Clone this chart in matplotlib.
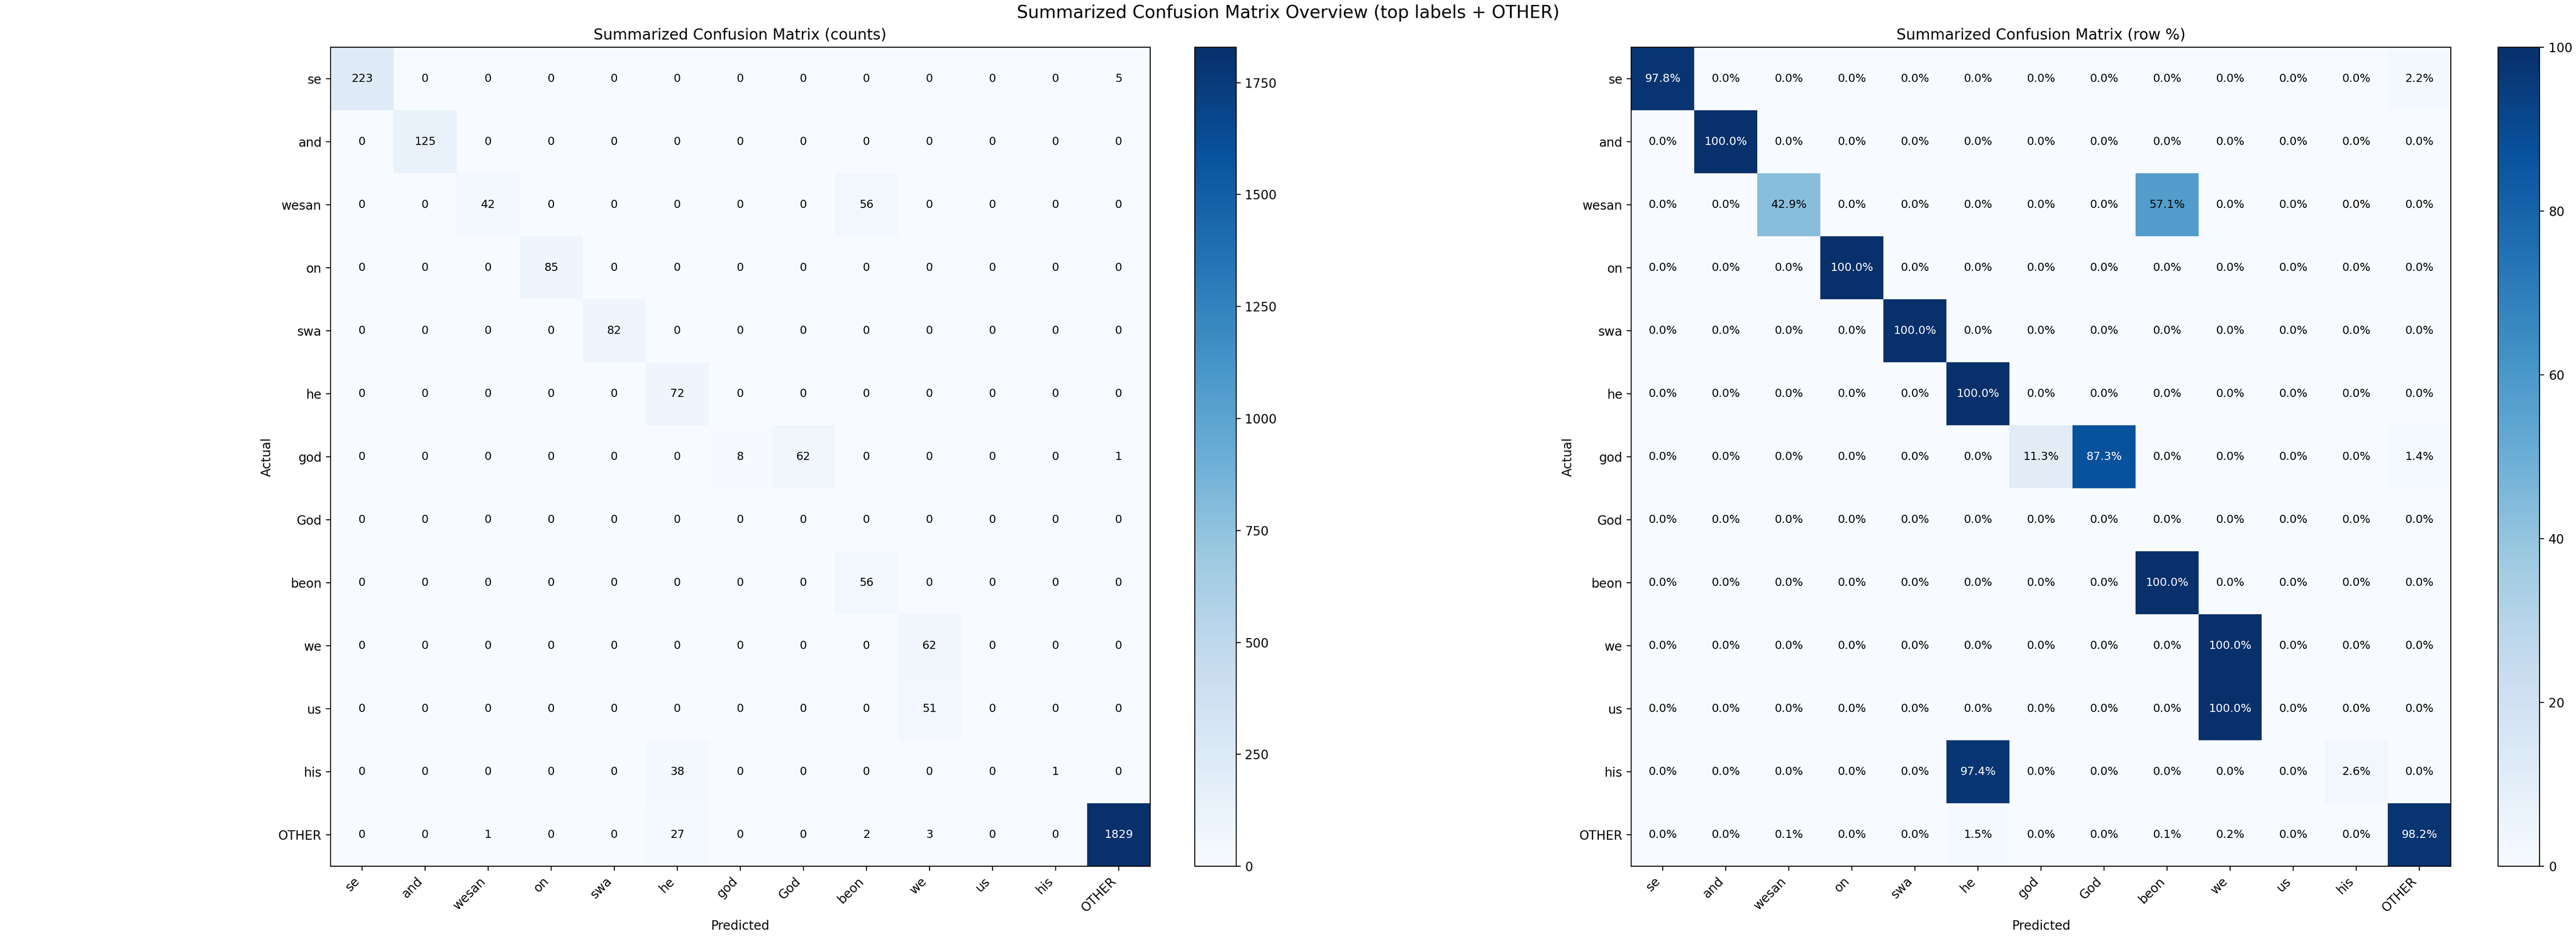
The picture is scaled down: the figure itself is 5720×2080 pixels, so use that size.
import numpy as np
import matplotlib
matplotlib.use("Agg")
import matplotlib.pyplot as plt

labels = ['se', 'and', 'wesan', 'on', 'swa', 'he', 'god', 'God', 'beon', 'we', 'us', 'his', 'OTHER']

# rows = actual, cols = predicted
counts = np.array([
    [223, 0, 0, 0, 0, 0, 0, 0, 0, 0, 0, 0, 5],
    [0, 125, 0, 0, 0, 0, 0, 0, 0, 0, 0, 0, 0],
    [0, 0, 42, 0, 0, 0, 0, 0, 56, 0, 0, 0, 0],
    [0, 0, 0, 85, 0, 0, 0, 0, 0, 0, 0, 0, 0],
    [0, 0, 0, 0, 82, 0, 0, 0, 0, 0, 0, 0, 0],
    [0, 0, 0, 0, 0, 72, 0, 0, 0, 0, 0, 0, 0],
    [0, 0, 0, 0, 0, 0, 8, 62, 0, 0, 0, 0, 1],
    [0, 0, 0, 0, 0, 0, 0, 0, 0, 0, 0, 0, 0],
    [0, 0, 0, 0, 0, 0, 0, 0, 56, 0, 0, 0, 0],
    [0, 0, 0, 0, 0, 0, 0, 0, 0, 62, 0, 0, 0],
    [0, 0, 0, 0, 0, 0, 0, 0, 0, 51, 0, 0, 0],
    [0, 0, 0, 0, 0, 38, 0, 0, 0, 0, 0, 1, 0],
    [0, 0, 1, 0, 0, 27, 0, 0, 2, 3, 0, 0, 1829],
])

# row-normalised percentages (empty rows -> 0)
row_sums = counts.sum(axis=1, keepdims=True)
row_pct = np.divide(counts * 100.0, row_sums, out=np.zeros(counts.shape), where=row_sums > 0)

fig = plt.figure(figsize=(28.6, 10.4), dpi=200)
ax1 = fig.add_axes([0.128, 0.0745, 0.3187, 0.875])
cax1 = fig.add_axes([0.4638, 0.0745, 0.0161, 0.875])
ax2 = fig.add_axes([0.633, 0.0745, 0.3187, 0.875])
cax2 = fig.add_axes([0.9698, 0.0745, 0.0161, 0.875])


def draw(ax, cax, mat, title, fmt):
    im = ax.imshow(mat, cmap='Blues', interpolation='nearest')
    fig.colorbar(im, cax=cax)
    ax.set_title(title, fontsize=12)
    ax.set_xticks(np.arange(len(labels)))
    ax.set_yticks(np.arange(len(labels)))
    ax.set_xticklabels(labels, rotation=45, ha='right')
    ax.set_yticklabels(labels)
    ax.set_xlabel('Predicted')
    ax.set_ylabel('Actual')
    thresh = mat.max() * 0.6
    for i in range(mat.shape[0]):
        for j in range(mat.shape[1]):
            ax.text(j, i, fmt(mat[i, j]), ha='center', va='center', fontsize=9,
                    color='white' if mat[i, j] > thresh else 'black')


draw(ax1, cax1, counts, 'Summarized Confusion Matrix (counts)', lambda v: str(int(v)))
draw(ax2, cax2, row_pct, 'Summarized Confusion Matrix (row %)', lambda v: f'{v:.1f}%')

fig.suptitle('Summarized Confusion Matrix Overview (top labels + OTHER)', fontsize=14, y=0.995)
fig.savefig('out.png', dpi=200)
